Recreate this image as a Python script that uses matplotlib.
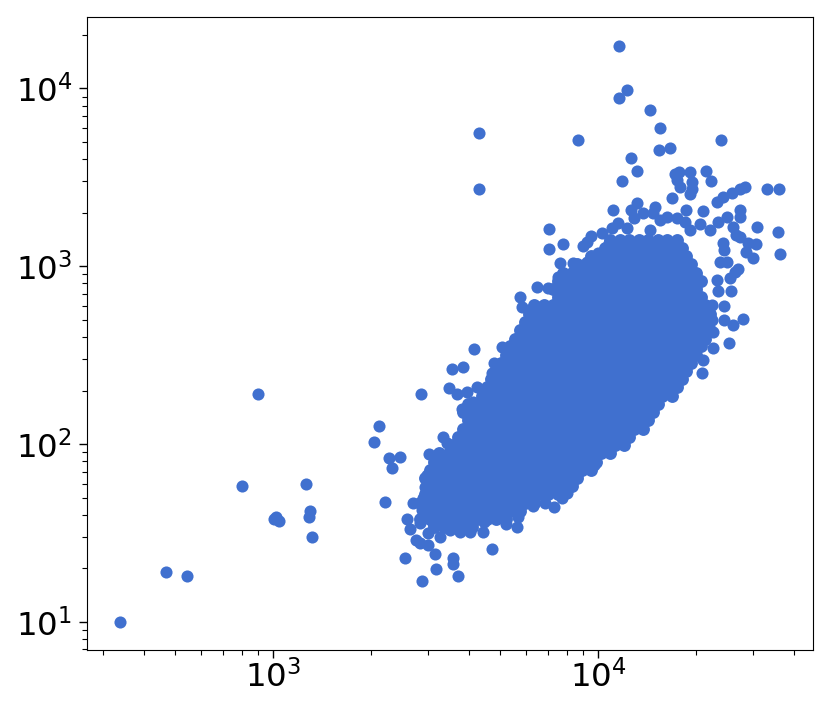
import matplotlib
matplotlib.use("Agg")
import matplotlib.pyplot as plt

# scattered points round the edge of the cloud
edge_x = [343, 473, 548, 805, 900, 1260, 1295, 1286, 1314, 1007, 1021, 1043,
          2100, 2030, 2252, 2432, 2300, 2195, 2520, 2818, 2838, 3125, 3520, 3520, 3650, 4630, 3108,
          2560, 2615, 2710, 2798, 2960, 2662, 3218, 3450, 3702, 3975, 4349, 4380, 2960, 2798, 3064, 3332,
          3625, 3975, 5105, 5517, 5555, 4795, 6170, 6711, 7155, 7560, 7830, 9000, 9430, 8400,
          2858, 2900, 2940, 2985, 3108, 2838, 3285, 3370, 3420, 3620, 3880, 4170, 4050, 3760,
          3490, 3770, 4075, 4970, 4700, 4630,
          5715, 5980, 6481, 5634, 6340, 6850, 7350, 6890, 7610, 6900, 7455, 8160, 9000, 9730, 10470, 8760, 9000, 9270, 10000,
          10800, 10730, 11190, 11910, 12780, 12250, 12500, 13320, 14510, 14300, 14000,
          15760, 15010, 16900, 17890, 18020, 18530, 16300,
          16680, 17150, 18530, 16900, 17267, 18800, 18800, 18530, 20700, 21430,
          22380, 23350, 24880, 26280, 27200, 31790, 34530,
          20280, 19860, 26280, 26280, 23960, 22520, 21330, 24950, 29620, 34300, 25620, 26280, 34770, 29400, 27800, 27400, 28830,
          23350, 23500, 23960, 22850, 25900, 25400, 24520, 22380, 24700, 22520, 23510, 21630, 21630, 23510, 24950, 26800,
          21780, 24300, 21780, 20280, 20140, 19860,
          11264, 11264, 11910, 13990, 12250, 15010, 14870, 16100, 12780, 11500, 23000, 8450, 4230, 4230]
edge_y = [10, 19, 18.1, 58, 191, 59.6, 42, 38.9, 30, 37.9, 39, 36.9,
          126, 102.6, 83.4, 84.5, 73.3, 47.2, 22.8, 191, 16.9, 19.8, 22.8, 21.1, 18.1, 25.6, 24,
          37.8, 33.2, 28.8, 27.7, 27, 46.6, 30, 32.8, 32, 32, 32, 36.4, 31.5, 36, 36, 36,
          36.4, 37.4, 35.5, 34.1, 38.8, 38.8, 44.8, 46.6, 44.2, 49.7, 53, 73.3, 76.2, 67,
          49.7, 57, 67, 88, 81.3, 42.5, 109.5, 101, 207, 191, 196, 209, 172, 157,
          264, 271, 343, 351, 286, 251,
          590, 568, 590, 671, 765, 755, 871, 1622, 1334, 1251, 1044, 1044, 1057, 1188, 1352, 1300, 1370, 1480, 1540,
          2073, 1642, 1753, 1642, 2270, 2073, 1870, 1995, 2157, 1995, 1600,
          1893, 1822, 1870, 1775, 2073, 1600, 2423,
          3305, 3394, 3394, 3060, 2795, 2980, 2722, 2552, 3440, 3020,
          2300, 2455, 2585, 2722, 2795, 2722, 2722,
          2047, 1730, 2073, 1893, 1893, 1775, 1600, 1663, 1663, 1560, 1500, 1462, 1173, 1334, 1352, 1203, 1114,
          1352, 1235, 1057, 1057, 966, 929, 859, 837, 726, 726, 598, 605, 499, 499, 468, 505,
          427, 370, 347, 297, 251, 385,
          17370, 8850, 9820, 7580, 4070, 6000, 4510, 4630, 3440, 3020, 5140, 5140, 5620, 2720]

# the solid middle of the cloud, one y value per row with its x values
core_y = [1406, 1268, 1135, 1023, 917, 827, 745, 667, 602, 539, 486, 438, 392, 354, 317, 286, 257, 231,
          208, 186, 168, 151, 136, 122, 110, 98.7, 89, 79.7, 71.8, 64.4, 58, 52.3, 46.9, 42.2, 37.8, 34.1]
core_x = [
    [10587, 11315, 12094, 12926, 13815, 14766, 15782, 16868],
    [10241, 10946, 11699, 12504, 13364, 14284, 15267, 16317, 17440],
    [9268, 9905, 10587, 11315, 12094, 12926, 13815, 14766, 15782, 16868, 18029],
    [8388, 8965, 9582, 10241, 10946, 11699, 12504, 13364, 14284, 15267, 16317, 17440, 18640],
    [7591, 8113, 8671, 9268, 9905, 10587, 11315, 12094, 12926, 13815, 14766, 15782, 16868, 18029, 19269],
    [7343, 7848, 8388, 8965, 9582, 10241, 10946, 11699, 12504, 13364, 14284, 15267, 16317, 17440, 18640, 19923],
    [7102, 7591, 8113, 8671, 9268, 9905, 10587, 11315, 12094, 12926, 13815, 14766, 15782, 16868, 18029, 19269],
    [7343, 7848, 8388, 8965, 9582, 10241, 10946, 11699, 12504, 13364, 14284, 15267, 16317, 17440, 18640, 19923],
    [6217, 6645, 7102, 7591, 8113, 8671, 9268, 9905, 10587, 11315, 12094, 12926, 13815, 14766, 15782, 16868, 18029, 19269, 20595],
    [6015, 6428, 6870, 7343, 7848, 8388, 8965, 9582, 10241, 10946, 11699, 12504, 13364, 14284, 15267, 16317, 17440, 18640, 19923, 21293],
    [5817, 6217, 6645, 7102, 7591, 8113, 8671, 9268, 9905, 10587, 11315, 12094, 12926, 13815, 14766, 15782, 16868, 18029, 19269, 20595],
    [5627, 6015, 6428, 6870, 7343, 7848, 8388, 8965, 9582, 10241, 10946, 11699, 12504, 13364, 14284, 15267, 16317, 17440, 18640, 19923, 21293],
    [5443, 5817, 6217, 6645, 7102, 7591, 8113, 8671, 9268, 9905, 10587, 11315, 12094, 12926, 13815, 14766, 15782, 16868, 18029, 19269, 20595],
    [5265, 5627, 6015, 6428, 6870, 7343, 7848, 8388, 8965, 9582, 10241, 10946, 11699, 12504, 13364, 14284, 15267, 16317, 17440, 18640, 19923],
    [5092, 5443, 5817, 6217, 6645, 7102, 7591, 8113, 8671, 9268, 9905, 10587, 11315, 12094, 12926, 13815, 14766, 15782, 16868, 18029, 19269],
    [4926, 5265, 5627, 6015, 6428, 6870, 7343, 7848, 8388, 8965, 9582, 10241, 10946, 11699, 12504, 13364, 14284, 15267, 16317, 17440, 18640],
    [4764, 5092, 5443, 5817, 6217, 6645, 7102, 7591, 8113, 8671, 9268, 9905, 10587, 11315, 12094, 12926, 13815, 14766, 15782, 16868, 18029],
    [4609, 4926, 5265, 5627, 6015, 6428, 6870, 7343, 7848, 8388, 8965, 9582, 10241, 10946, 11699, 12504, 13364, 14284, 15267, 16317, 17440],
    [4458, 4764, 5092, 5443, 5817, 6217, 6645, 7102, 7591, 8113, 8671, 9268, 9905, 10587, 11315, 12094, 12926, 13815, 14766, 15782, 16868],
    [4312, 4609, 4926, 5265, 5627, 6015, 6428, 6870, 7343, 7848, 8388, 8965, 9582, 10241, 10946, 11699, 12504, 13364, 14284, 15267, 16317],
    [3902, 4171, 4458, 4764, 5092, 5443, 5817, 6217, 6645, 7102, 7591, 8113, 8671, 9268, 9905, 10587, 11315, 12094, 12926, 13815, 14766],
    [3775, 4035, 4312, 4609, 4926, 5265, 5627, 6015, 6428, 6870, 7343, 7848, 8388, 8965, 9582, 10241, 10946, 11699, 12504, 13364, 14284],
    [3902, 4171, 4458, 4764, 5092, 5443, 5817, 6217, 6645, 7102, 7591, 8113, 8671, 9268, 9905, 10587, 11315, 12094, 12926, 13815],
    [3775, 4035, 4312, 4609, 4926, 5265, 5627, 6015, 6428, 6870, 7343, 7848, 8388, 8965, 9582, 10241, 10946, 11699, 12504, 13364],
    [3651, 3902, 4171, 4458, 4764, 5092, 5443, 5817, 6217, 6645, 7102, 7591, 8113, 8671, 9268, 9905, 10587, 11315, 12094],
    [3532, 3775, 4035, 4312, 4609, 4926, 5265, 5627, 6015, 6428, 6870, 7343, 7848, 8388, 8965, 9582, 10241, 10946, 11699],
    [3196, 3416, 3651, 3902, 4171, 4458, 4764, 5092, 5443, 5817, 6217, 6645, 7102, 7591, 8113, 8671, 9268, 9905, 10587],
    [3091, 3304, 3532, 3775, 4035, 4312, 4609, 4926, 5265, 5627, 6015, 6428, 6870, 7343, 7848, 8388, 8965, 9582],
    [2990, 3196, 3416, 3651, 3902, 4171, 4458, 4764, 5092, 5443, 5817, 6217, 6645, 7102, 7591, 8113, 8671, 9268],
    [2893, 3091, 3304, 3532, 3775, 4035, 4312, 4609, 4926, 5265, 5627, 6015, 6428, 6870, 7343, 7848, 8388],
    [2990, 3196, 3416, 3651, 3902, 4171, 4458, 4764, 5092, 5443, 5817, 6217, 6645, 7102, 7591, 8113],
    [2893, 3091, 3304, 3532, 3775, 4035, 4312, 4609, 4926, 5265, 5627, 6015, 6428, 6870, 7343],
    [2798, 2990, 3196, 3416, 3651, 3902, 4171, 4458, 4764, 5092, 5443, 5817, 6217],
    [2893, 3091, 3304, 3532, 3775, 4035, 4312, 4609, 4926, 5265, 5627],
    [2798, 2990, 3196, 3416, 3651, 3902, 4171, 4458, 4764, 5092],
    [3091, 3304, 3532, 3775, 4035],
]

blue = "#4070cf"


def recal(xs):
    # x values were read with a slightly short decade (329 px, the axis has 325)
    return [1000 * (v / 1000) ** (329 / 325) for v in xs]


fig = plt.figure(figsize=(8.3, 7.12), dpi=100)
ax = fig.add_axes([86.7 / 830, (712 - 650) / 712, 725.8 / 830, 632.7 / 712])

for y, xs in zip(core_y, core_x):
    ax.scatter(recal(xs), [y] * len(xs), s=86, c=blue, linewidths=0)
ax.scatter(recal(edge_x), edge_y, s=76, c=blue, linewidths=0)

ax.set_xscale("log")
ax.set_yscale("log")
ax.set_xlim(267, 45700)
ax.set_ylim(6.95, 25100)
ax.tick_params(axis="both", which="major", labelsize=23.3, length=6, width=1)
ax.tick_params(axis="x", which="major", pad=1)
ax.tick_params(axis="y", which="major", pad=4.5)
ax.tick_params(axis="both", which="minor", length=3.5, width=0.8)

fig.savefig("out.png", dpi=100)
